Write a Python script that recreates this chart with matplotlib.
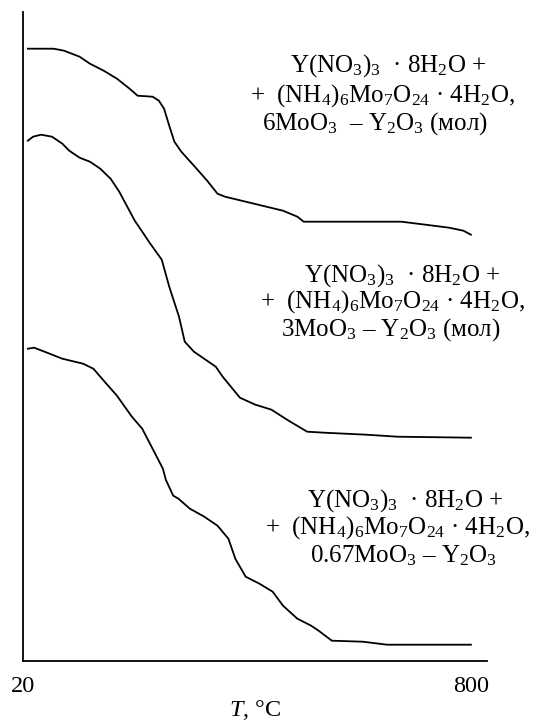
import matplotlib
matplotlib.use("Agg")
import matplotlib.pyplot as plt

plt.rcParams['font.family'] = ['Liberation Serif', 'DejaVu Serif']
plt.rcParams['mathtext.fontset'] = 'custom'
plt.rcParams['mathtext.rm'] = 'Liberation Serif'
plt.rcParams['mathtext.it'] = 'Liberation Serif:italic'

# Temperature (°C) and relative mass (arbitrary units) for three TG curves
t1 = [29, 74, 92, 119, 137, 161, 184, 206, 220, 246, 257, 266, 275, 284, 296, 318, 341, 359,
      372, 401, 437, 473, 498, 509, 553, 679, 721, 762, 787, 800]
m1 = [612, 612, 610, 604, 597, 590, 582, 572, 565, 564, 560, 552, 535, 519, 509, 495, 480, 467,
      464, 460, 455, 450, 444, 439, 439, 439, 436, 433, 430, 426]

t2 = [29, 38, 52, 71, 89, 101, 119, 137, 155, 173, 188, 202, 215, 228, 242, 262, 275, 292, 302,
      318, 356, 368, 398, 425, 453, 480, 515, 545, 618, 672, 800]
m2 = [520, 524, 526, 524, 517, 510, 503, 499, 492, 482, 469, 454, 440, 429, 417, 401, 374, 344,
      319, 309, 294, 284, 263, 256, 251, 241, 229, 228, 226, 224, 223]

t3 = [29, 40, 58, 89, 125, 143, 161, 184, 210, 228, 246, 264, 269, 282, 291, 311, 336, 359, 378,
      390, 408, 432, 455, 473, 498, 522, 535, 558, 612, 654, 800]
m3 = [312, 313, 309, 302, 297, 292, 280, 265, 244, 232, 212, 192, 181, 165, 162, 152, 144, 135,
      122, 102, 84, 77, 69, 55, 42, 35, 30, 20, 19, 16, 16]

xticks = [20, 800]
xlabel = r"$\it{T}$, °C"

labels = [
    [r"Y(NO$_3$)$_3$  · 8H$_2$O +", r"+  (NH$_4$)$_6$Mo$_7$O$_{24}$ · 4H$_2$O,", r"6MoO$_3$  – Y$_2$O$_3$ (мол)"],
    [r"Y(NO$_3$)$_3$  · 8H$_2$O +", r"+  (NH$_4$)$_6$Mo$_7$O$_{24}$ · 4H$_2$O,", r"3MoO$_3$ – Y$_2$O$_3$ (мол)"],
    [r"Y(NO$_3$)$_3$  · 8H$_2$O +", r"+  (NH$_4$)$_6$Mo$_7$O$_{24}$ · 4H$_2$O,", r"0.67MoO$_3$ – Y$_2$O$_3$"],
]

fig = plt.figure(figsize=(5.4, 7.23), dpi=100)
W, H = 540, 723
x0, x1, ytop, ybot = 22.7, 487, 12, 660.7
ax = fig.add_axes([x0 / W, (H - ybot) / H, (x1 - x0) / W, (ybot - ytop) / H])
for t, m in [(t1, m1), (t2, m2), (t3, m3)]:
    ax.plot(t, m, color='black', lw=1.3)
ax.set_xlim(20, 828)
ax.set_ylim(0, 648.7)
ax.spines['top'].set_visible(False)
ax.spines['right'].set_visible(False)
ax.spines['left'].set_linewidth(1.3)
ax.spines['bottom'].set_linewidth(1.3)
ax.set_yticks([])
ax.set_xticks(xticks)
ax.set_xticklabels([str(v) for v in xticks], fontsize=17.5)
ax.tick_params(axis='x', length=0, pad=11)
ax.set_xlabel(xlabel, fontsize=17.5, labelpad=1)

# text blocks: (x centers of lines, baselines of lines) in figure pixels
pos = [
    ([388, 382, 375], [71.7, 101.7, 130]),
    ([402, 392, 391], [281.7, 308, 336]),
    ([405, 397, 404], [506.7, 534, 562]),
]
for lines, (xs, ys) in zip(labels, pos):
    for s, x, y in zip(lines, xs, ys):
        fig.text(x / W, 1 - y / H, s, ha='center', va='baseline', fontsize=18)

fig.savefig("out.png", dpi=100)
